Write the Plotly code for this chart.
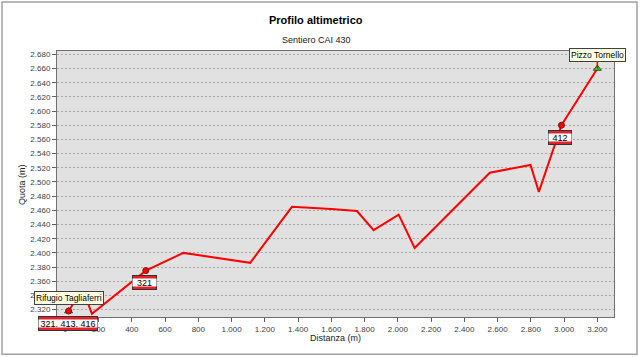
import plotly.graph_objects as go

# ---- data ----
distanza = [20, 60, 130, 160, 484, 710, 1112, 1363, 1600, 1754, 1854, 2005, 2101, 2316, 2553, 2798, 2848, 2984, 3200]
quota = [2318, 2333, 2333, 2314, 2375, 2400, 2386, 2465, 2462, 2459, 2432, 2454, 2407, 2457, 2513, 2524, 2486, 2580, 2660]

poi_names = ["Rifugio Tagliaferri", "Pizzo Tornello"]
poi_dist = [20, 3200]
poi_quota = [2318, 2660]

sign_labels = ["321, 413, 416", "321", "412"]
sign_dist = [20, 484, 2984]
sign_quota = [2318, 2375, 2580]
sign_widths = [58, 23, 22]

x_ticks = list(range(0, 3201, 200))
y_ticks = list(range(2320, 2681, 20))

title = "Profilo altimetrico"
subtitle = "Sentiero CAI 430"
x_title = "Distanza (m)"
y_title = "Quota (m)"

FONT = "Liberation Sans, Arial, sans-serif"

fig = go.Figure()
fig.add_trace(go.Scatter(x=distanza, y=quota, mode="lines",
                         line=dict(color="#ff0000", width=2), hoverinfo="skip"))
# start / end markers
fig.add_trace(go.Scatter(x=poi_dist, y=poi_quota, mode="markers",
                         marker=dict(symbol="triangle-up", size=7, color="#33cc33",
                                     line=dict(color="#206020", width=1))))
fig.add_trace(go.Scatter(x=sign_dist, y=sign_quota, mode="markers",
                         marker=dict(symbol="circle", size=6, color="#ff0000",
                                     line=dict(color="#801010", width=1))))

annotations = []
# CAI trail signs (red/white/red)
for lab, xd, yd, w in zip(sign_labels, sign_dist, sign_quota, sign_widths):
    annotations.append(dict(x=xd, y=yd, xref="x", yref="y", text=" ", showarrow=False,
                            width=w, height=13, bgcolor="#e8202a", bordercolor="#333333",
                            borderwidth=1, borderpad=0, xshift=-1, yshift=-12,
                            font=dict(size=6)))
    annotations.append(dict(x=xd, y=yd, xref="x", yref="y", text=lab, showarrow=False,
                            width=w, height=7, bgcolor="#ffffff", borderpad=0,
                            xshift=-1, yshift=-12,
                            font=dict(family=FONT, size=9, color="#000000")))

# callouts
annotations.append(dict(x=poi_dist[0], y=poi_quota[0], xref="x", yref="y",
                        text=poi_names[0], showarrow=False, yshift=13,
                        bgcolor="#ffffe1", bordercolor="#404040", borderwidth=1, borderpad=1,
                        font=dict(family=FONT, size=8.5, color="#000000")))
annotations.append(dict(x=poi_dist[1], y=poi_quota[1], xref="x", yref="y",
                        text=poi_names[1], showarrow=True, arrowhead=0, arrowcolor="#ff0000",
                        arrowwidth=1.5, ax=0, ay=-14,
                        bgcolor="#ffffe1", bordercolor="#404040", borderwidth=1, borderpad=1,
                        font=dict(family=FONT, size=8.5, color="#000000")))

# titles
annotations.append(dict(x=0.465, y=1.117, xref="paper", yref="paper", text="<b>" + title + "</b>",
                        showarrow=False, xanchor="center", yanchor="middle",
                        font=dict(family=FONT, size=11, color="#000000")))
annotations.append(dict(x=0.465, y=1.043, xref="paper", yref="paper", text=subtitle,
                        showarrow=False, xanchor="center", yanchor="middle",
                        font=dict(family=FONT, size=9, color="#202020")))
annotations.append(dict(x=0.5, y=-0.078, xref="paper", yref="paper", text=x_title,
                        showarrow=False, xanchor="center", yanchor="middle",
                        font=dict(family=FONT, size=9, color="#202020")))
annotations.append(dict(x=-0.063, y=0.5, xref="paper", yref="paper", text=y_title,
                        textangle=-90, showarrow=False, xanchor="center", yanchor="middle",
                        font=dict(family=FONT, size=9, color="#202020")))

shapes = [dict(type="rect", xref="paper", yref="paper", x0=-0.0987, x1=1.0413,
               y0=-0.1404, y1=1.1844, line=dict(color="#a0a0a0", width=1.5),
               layer="below")]

fig.update_layout(
    width=640, height=357,
    margin=dict(l=57, r=26, t=51, b=40),
    paper_bgcolor="#ffffff", plot_bgcolor="#e1e1e1",
    separators=",.",
    showlegend=False,
    annotations=annotations,
    shapes=shapes,
    font=dict(family=FONT, size=8, color="#404040"),
)
fig.update_xaxes(range=[-50, 3300], tickvals=x_ticks, tickformat=",d",
                 showgrid=False, zeroline=False, ticks="outside", ticklen=4,
                 tickcolor="#606060", showline=True, linecolor="#707070", linewidth=1,
                 mirror=True, tickfont=dict(family=FONT, size=8, color="#404040"))
fig.update_yaxes(range=[2309.6, 2684.7], tickvals=y_ticks, tickformat=",d",
                 showgrid=True, gridcolor="#a8a8a8", griddash="2px,2px", gridwidth=1,
                 zeroline=False, ticks="outside", ticklen=4,
                 tickcolor="#606060", showline=True, linecolor="#707070", linewidth=1,
                 mirror=True, tickfont=dict(family=FONT, size=8, color="#404040"))

fig.write_html("out.html")
